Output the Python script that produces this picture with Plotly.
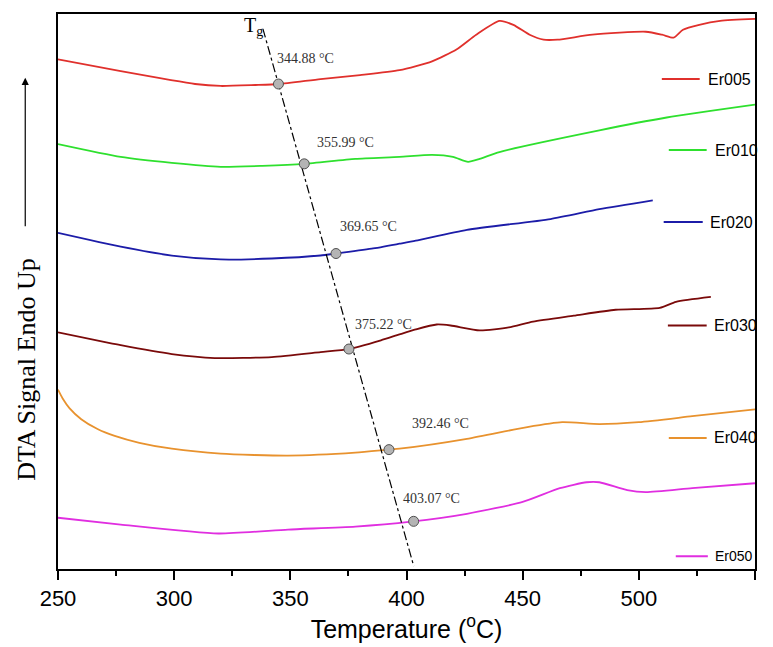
import numpy as np
import plotly.graph_objects as go

# ---------------- data (y in arbitrary DTA units) ----------------
er005_T = [250, 277, 309, 320, 335, 345, 363, 380, 397, 411, 421.5, 430, 440, 446, 453, 459, 465, 480, 503, 510, 515, 519, 526, 535, 550]
er005_V = [517, 505, 492, 490, 491, 492, 497, 501, 506, 515, 527, 542, 556, 552, 542, 537, 537, 542, 545, 542, 539, 547, 552, 556, 558]

er010_T = [250, 277, 299, 320, 338, 356, 378, 397, 411, 420, 426.5, 431.5, 440, 483, 512, 550]
er010_V = [431, 418, 412, 408, 409, 411, 416, 418, 420, 418, 413, 416, 423, 445, 458, 471]

er020_T = [250, 277, 299, 320, 342, 363, 369.6, 385, 397, 404, 426, 462, 483, 506]
er020_V = [341, 327, 318, 314, 315, 318, 320, 325, 330, 333, 344, 355, 365, 374]

er030_T = [250, 277, 299, 317.5, 342, 363, 375, 389, 397, 404, 413, 419, 431.5, 444, 454.5, 472, 490, 509, 516, 531]
er030_V = [240, 227, 218, 214, 215, 220, 223, 232, 238, 243, 248, 247, 242, 245, 251, 257, 263, 265, 271, 276]

er040_T = [250, 252, 255, 260, 267, 274.4, 285, 299, 320, 349, 378, 392, 397, 426, 452, 467, 483, 500, 523, 550]
er040_V = [182, 173, 163, 152, 142, 135, 128, 122, 117, 115, 118, 121, 122, 132, 144, 149, 147, 149, 155, 162]

er050_T = [250, 277, 319, 349, 378, 402, 426, 450, 466, 477.5, 483, 495, 503, 523, 550]
er050_V = [52, 45, 36, 40, 43, 48, 56, 68, 82, 88, 88, 80, 78, 82, 87]

series_names = ["Er005", "Er010", "Er020", "Er030", "Er040", "Er050"]
tg_values = [344.88, 355.99, 369.65, 375.22, 392.46, 403.07]
tg_labels = ["344.88 °C", "355.99 °C", "369.65 °C", "375.22 °C", "392.46 °C", "403.07 °C"]

# Tg guide line end points (temperature, signal)
tg_line_T = [338.2, 403.1]
tg_line_V = [548, 3]

x_ticks = [250, 300, 350, 400, 450, 500, 550]

# ---------------- styling / layout ----------------
colors = ["#e0302c", "#2ee02e", "#1c1ca8", "#7a0a0a", "#e8922e", "#e02ee0"]
curves = [(er005_T, er005_V), (er010_T, er010_V), (er020_T, er020_V),
          (er030_T, er030_V), (er040_T, er040_V), (er050_T, er050_V)]

# label positions (T, V) for the Tg text
label_pos = [(343.3, 518), (360.5, 433), (370.3, 347), (377.0, 248), (401.4, 148), (397.8, 72)]
# in-plot legend entries: (line start T, line end T, V, text T, font size)
legend_pos = [(509.9, 526.2, 497, 528.8, 16), (512.9, 529.2, 425, 531.8, 16),
              (510.7, 527.5, 352, 529.7, 16), (512.5, 529.2, 247, 531.4, 16),
              (512.9, 529.2, 133, 531.4, 16), (515.9, 529.7, 13, 531.8, 14)]

fig = go.Figure()

for (T, V), c, n in zip(curves, colors, series_names):
    fig.add_trace(go.Scatter(x=T, y=V, mode="lines", name=n,
                             line=dict(color=c, width=1.8, shape="spline", smoothing=0.6),
                             showlegend=False, hoverinfo="skip"))

# Tg guide line
fig.add_trace(go.Scatter(x=tg_line_T, y=tg_line_V, mode="lines",
                         line=dict(color="black", width=1.2, dash="dashdot"),
                         showlegend=False, hoverinfo="skip"))

# Tg markers on the curves
tg_y = [float(np.interp(t, T, V)) for t, (T, V) in zip(tg_values, curves)]
fig.add_trace(go.Scatter(x=tg_values, y=tg_y, mode="markers",
                         marker=dict(size=10, color="#b4b4b4", line=dict(color="#505050", width=1)),
                         showlegend=False, hoverinfo="skip"))

annotations = []
for (lx, ly), txt in zip(label_pos, tg_labels):
    annotations.append(dict(x=lx, y=ly, xref="x", yref="y", text=txt, showarrow=False,
                            xanchor="left", yanchor="middle",
                            font=dict(family="Liberation Serif", size=14, color="#333333")))

annotations.append(dict(x=329.2, y=550, xref="x", yref="y", text="T<sub>g</sub>", showarrow=False,
                        xanchor="left", yanchor="middle",
                        font=dict(family="Liberation Serif", size=20, color="black")))

shapes = []
for (x0, x1, v, tx, fs), c, n in zip(legend_pos, colors, series_names):
    shapes.append(dict(type="line", xref="x", yref="y", x0=x0, x1=x1, y0=v, y1=v,
                       line=dict(color=c, width=2)))
    annotations.append(dict(x=tx, y=v, xref="x", yref="y", text=n, showarrow=False,
                            xanchor="left", yanchor="middle",
                            font=dict(family="Liberation Sans", size=fs, color="black")))

# y-axis title and arrow
annotations.append(dict(x=-0.045, y=0.36, xref="paper", yref="paper", text="DTA Signal Endo Up",
                        textangle=-90, showarrow=False, xanchor="center", yanchor="middle",
                        font=dict(family="Liberation Serif", size=26, color="black")))
annotations.append(dict(x=-0.047, y=0.885, xref="paper", yref="paper", ax=0, ay=150,
                        axref="pixel", ayref="pixel", text="", showarrow=True,
                        arrowhead=2, arrowsize=1.2, arrowwidth=1.2, arrowcolor="black"))

fig.update_layout(
    width=773, height=647,
    margin=dict(l=58, r=18, t=12, b=72),
    paper_bgcolor="white", plot_bgcolor="white",
    shapes=shapes, annotations=annotations,
    xaxis=dict(range=[250, 550], tickvals=x_ticks, ticks="outside", ticklen=9, tickwidth=1.5,
               tickcolor="black", showline=True, linecolor="black", linewidth=2, mirror=True,
               showgrid=False, zeroline=False,
               minor=dict(dtick=25, tick0=250, ticks="outside", ticklen=5, tickcolor="black", tickwidth=1.5),
               tickfont=dict(family="Liberation Sans", size=22, color="black"),
               title=dict(text="Temperature (<sup>o</sup>C)", standoff=6,
                          font=dict(family="Liberation Sans", size=25, color="black"))),
    yaxis=dict(range=[0, 563], showticklabels=False, ticks="", showline=True, linecolor="black",
               linewidth=2, mirror=True, showgrid=False, zeroline=False),
)

fig.write_html("out.html", config={"displayModeBar": False},
               post_script="document.body.style.margin='0';document.body.style.overflow='hidden';")
